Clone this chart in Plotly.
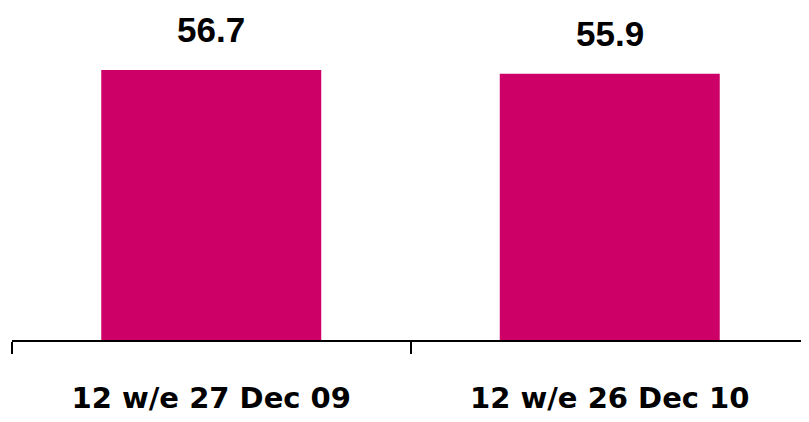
import plotly.graph_objects as go

categories = ["12 w/e 27 Dec 09", "12 w/e 26 Dec 10"]
values = [56.7, 55.9]
value_labels = ["56.7", "55.9"]

BAR_COLOR = "#CC0066"

fig = go.Figure()
fig.add_trace(go.Bar(
    x=categories, y=values, marker=dict(color=BAR_COLOR, line=dict(width=0)),
    hoverinfo="skip",
))

for c, v, t in zip(categories, values, value_labels):
    fig.add_annotation(x=c, y=v, text="<b>%s</b>" % t, showarrow=False,
                       yanchor="bottom", yshift=20, borderpad=0,
                       font=dict(family="Liberation Sans", size=35, color="black"))

# page body has an 8px default margin, so the figure is offset by 8px
fig.update_layout(
    width=801, height=414,
    margin=dict(l=4, r=0, t=12, b=82, autoexpand=False),
    paper_bgcolor="white", plot_bgcolor="white",
    bargap=0.448,
    showlegend=False,
    xaxis=dict(
        type="category", tickson="boundaries", ticks="outside", ticklen=12,
        tickwidth=2, tickcolor="black", showline=True, linecolor="black",
        linewidth=2, showgrid=False, zeroline=False, automargin=False,
        tickfont=dict(family="DejaVu Sans", size=29, color="black"),
        ticklabelstandoff=31,
        tickvals=categories,
        ticktext=["<b>%s</b>" % c for c in categories],
    ),
    yaxis=dict(range=[0, 67.2], visible=False, showgrid=False, zeroline=False),
)

fig.write_html("out.html")
